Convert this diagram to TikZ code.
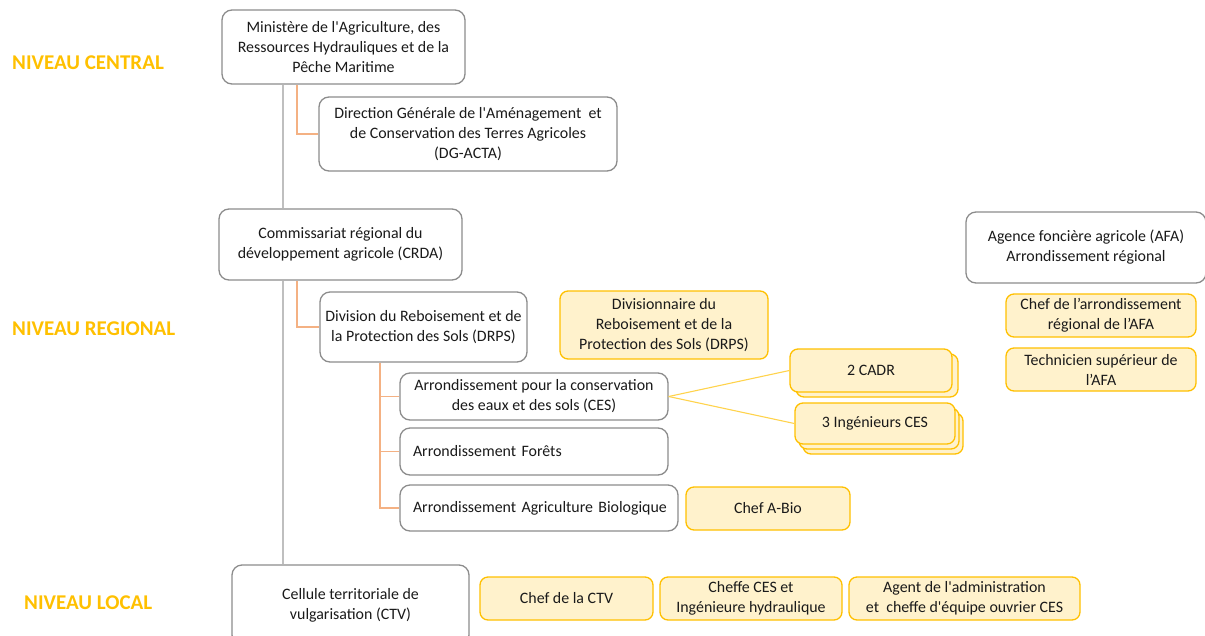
\documentclass[tikz,border=0pt]{standalone}
\usepackage{fontspec}
\setmainfont{Carlito}[Ligatures=TeXOff]
\definecolor{boxgray}{HTML}{8C8C8C}
\definecolor{trunkgray}{HTML}{BFBFBF}
\definecolor{gold}{HTML}{FFC000}
\definecolor{yfill}{HTML}{FFF2CC}
\definecolor{orangeline}{HTML}{F4B183}
\definecolor{txt}{HTML}{1A1A1A}
\tikzset{
  wbox/.style={draw=boxgray, line width=1.3pt, rounded corners=10pt, fill=white, align=center, inner sep=0pt, text=txt, font=\fontsize{15.9}{20}\selectfont},
  ybox/.style={draw=gold, line width=1.3pt, rounded corners=8pt, fill=yfill, align=center, inner sep=0pt, text=txt, font=\fontsize{15.9}{20}\selectfont},
  level/.style={anchor=west, text=gold, font=\fontsize{21}{24}\selectfont\bfseries, inner sep=0pt},
  trunk/.style={draw=trunkgray, line width=1.3pt},
  oline/.style={draw=orangeline, line width=1.3pt},
  yline/.style={draw=gold!70, line width=1.1pt},
}
\begin{document}
\begin{tikzpicture}[x=1pt,y=-1pt]
\useasboundingbox (0,0) rectangle (1205,635);
\clip (0,0) rectangle (1205,635);
% levels
\node[level] (lc) at (12,63) {NIVEAU CENTRAL};
\node[level] (lr) at (12,329) {NIVEAU REGIONAL};
\node[level] (ll) at (24,603) {NIVEAU LOCAL};
% connector coordinates
\coordinate (t) at (283,0);
\coordinate (o1) at (297,0);
\coordinate (o2) at (380,0);
% central
\node[wbox, minimum width=243pt, minimum height=74pt] (min) at (343.5,47) {Ministère de l'Agriculture, des\\Ressources Hydrauliques et de la\\Pêche Maritime};
\node[wbox, minimum width=298pt, minimum height=74pt] (dg) at (468,134) {Direction Générale de l'Aménagement~ et\\de Conservation des Terres Agricoles\\(DG-ACTA)};
% regional
\node[wbox, minimum width=243pt, minimum height=71pt] (crda) at (340.5,244.5) {Commissariat régional du\\développement agricole (CRDA)};
\node[wbox, minimum width=207pt, minimum height=70pt] (drps) at (423.5,327) {Division du Reboisement et de\\la Protection des Sols (DRPS)};
\node[ybox, minimum width=208pt, minimum height=68pt] (div) at (664,325) {Divisionnaire du\\Reboisement et de la\\Protection des Sols (DRPS)};
\node[wbox, minimum width=268pt, minimum height=47pt] (ces) at (534,396.5) {Arrondissement pour la conservation\\des eaux et des sols (CES)};
\node[wbox, minimum width=268pt, minimum height=47pt, text width=242pt, align=left] (for) at (534,451.5) {\mbox{Arrondissement Forêts}};
\node[wbox, minimum width=278pt, minimum height=46pt, text width=252pt, align=left] (bio) at (539,508) {\mbox{Arrondissement Agriculture Biologique}};
\node[ybox, minimum width=164pt, minimum height=43pt] (abio) at (768,508.5) {Chef A-Bio};
% stacked boxes
\node[ybox, minimum width=162pt, minimum height=43pt] (cadrb) at (877,375.5) {};
\node[ybox, minimum width=162pt, minimum height=43pt] (cadr) at (871,370.5) {2 CADR};
\node[ybox, minimum width=160pt, minimum height=41pt] (ingc) at (883,433.5) {};
\node[ybox, minimum width=160pt, minimum height=41pt] (ingb) at (879,428.5) {};
\node[ybox, minimum width=160pt, minimum height=41pt] (ing) at (875,423.5) {3 Ingénieurs CES};
% AFA
\node[wbox, minimum width=240pt, minimum height=71pt] (afa) at (1086,247.5) {Agence foncière agricole (AFA)\\Arrondissement régional};
\node[ybox, minimum width=190pt, minimum height=43pt] (chafa) at (1101,315.5) {Chef de l’arrondissement\\régional de l’AFA};
\node[ybox, minimum width=190pt, minimum height=43pt] (tech) at (1101,369.5) {Technicien supérieur de\\l’AFA};
% local
\node[wbox, minimum width=237pt, minimum height=80pt] (ctv) at (350.5,605) {Cellule territoriale de\\vulgarisation (CTV)};
\node[ybox, minimum width=173pt, minimum height=43pt] (chctv) at (566.5,598.5) {Chef de la CTV};
\node[ybox, minimum width=182pt, minimum height=43pt] (cheffe) at (751,598.5) {Cheffe CES et\\Ingénieure hydraulique};
\node[ybox, minimum width=231pt, minimum height=43pt] (agent) at (964.5,598.5) {Agent de l'administration\\et~ cheffe d'équipe ouvrier CES};
% connectors
\draw[trunk] (min.south -| t) -- (crda.north -| t);
\draw[trunk] (crda.south -| t) -- (ctv.north -| t);
\draw[oline] (min.south -| o1) |- (dg.west);
\draw[oline] (crda.south -| o1) |- (drps.west);
\draw[oline] (drps.south -| o2) |- (ces.west);
\draw[oline] (drps.south -| o2) |- (for.west);
\draw[oline] (drps.south -| o2) |- (bio.west);
\draw[yline] (ces.east) -- (cadr.west);
\draw[yline] (ces.east) -- (ing.west);
\end{tikzpicture}
\end{document}
